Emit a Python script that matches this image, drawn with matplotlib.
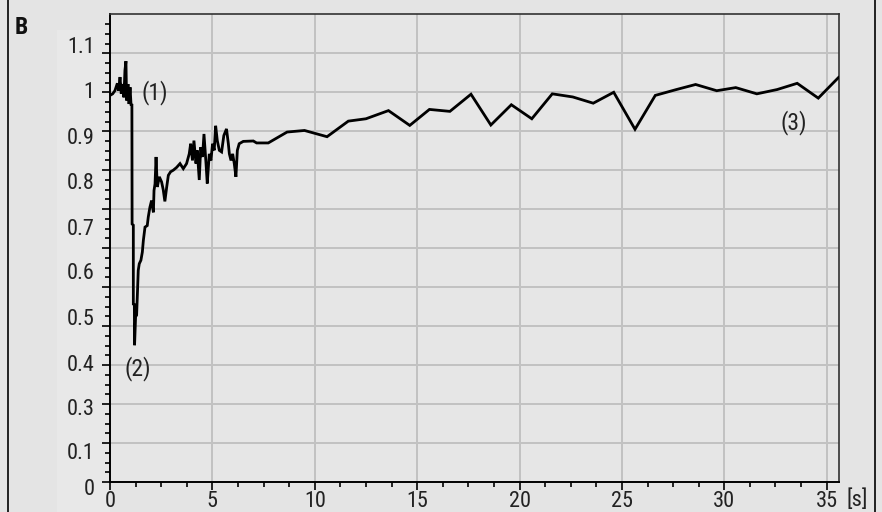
import matplotlib
matplotlib.use("Agg")
import matplotlib.pyplot as plt
import matplotlib.transforms as mtransforms
from matplotlib.lines import Line2D
import numpy as np

# ---- data ----
time_s = [0.0, 0.13, 0.24, 0.36, 0.42, 0.49, 0.55, 0.62, 0.68, 0.73, 0.78, 0.81, 0.88, 0.93, 0.98,
          1.03, 1.07, 1.08, 1.14, 1.14, 1.19, 1.20, 1.25, 1.30, 1.34, 1.38, 1.43, 1.51, 1.58, 1.63,
          1.71, 1.82, 1.87, 1.95, 2.03, 2.12, 2.15, 2.20, 2.25, 2.31, 2.41, 2.52, 2.60, 2.68, 2.77,
          2.85, 2.96, 3.09, 3.25, 3.42, 3.58, 3.74, 3.87, 3.94, 4.03, 4.10, 4.20, 4.26, 4.36, 4.43,
          4.52, 4.59, 4.69, 4.75, 4.85, 4.93, 5.01, 5.09, 5.16, 5.24, 5.34, 5.45, 5.56, 5.69, 5.78,
          5.83, 5.91, 5.99, 6.07, 6.15, 6.22, 6.31, 6.51, 7.0, 7.16, 7.73, 8.65, 9.5, 10.6, 11.64,
          12.5, 13.6, 14.64, 15.6, 16.6, 17.63, 18.6, 19.6, 20.6, 21.6, 22.6, 23.6, 24.6, 25.64,
          26.63, 27.66, 28.6, 29.63, 30.56, 31.59, 32.58, 33.56, 34.59, 35.58]
ratio = [0.992, 0.996, 1.004, 1.023, 1.004, 1.039, 0.996, 1.021, 0.987, 1.056, 1.08, 0.979, 1.021, 0.97, 1.013,
         0.966, 0.97, 0.662, 0.659, 0.454, 0.458, 0.351, 0.424, 0.428, 0.484, 0.543, 0.56, 0.569, 0.59, 0.62,
         0.654, 0.658, 0.68, 0.705, 0.722, 0.692, 0.748, 0.765, 0.834, 0.757, 0.783, 0.77, 0.75, 0.72, 0.757,
         0.787, 0.796, 0.80, 0.807, 0.817, 0.804, 0.817, 0.842, 0.868, 0.825, 0.876, 0.817, 0.851, 0.775, 0.859,
         0.834, 0.893, 0.817, 0.766, 0.842, 0.825, 0.868, 0.851, 0.914, 0.876, 0.851, 0.847, 0.889, 0.906, 0.868,
         0.842, 0.825, 0.842, 0.817, 0.783, 0.851, 0.868, 0.874, 0.875, 0.870, 0.870, 0.898, 0.902, 0.886, 0.926,
         0.932, 0.953, 0.915, 0.956, 0.951, 0.995, 0.916, 0.968, 0.932, 0.996, 0.988, 0.972, 1.0, 0.905,
         0.992, 1.007, 1.02, 1.004, 1.012, 0.996, 1.007, 1.023, 0.985, 1.038]

x_ticks = [0, 5, 10, 15, 20, 25, 30, 35]
x_tick_labels = ["0", "5", "10", "15", "20", "25", "30", "35"]
y_grid = [0.0, 0.1, 0.2, 0.3, 0.4, 0.5, 0.6, 0.7, 0.8, 0.9, 1.0, 1.1]
# y tick labels as typeset in the picture (labels do not sit exactly on the grid lines)
y_label_text = ["1.1", "1", "0.9", "0.8", "0.7", "0.6", "0.5", "0.4", "0.3", "0.1", "0"]
y_label_pos = [1.115, 1.0, 0.882, 0.767, 0.649, 0.536, 0.418, 0.300, 0.185, 0.072, -0.018]

annotations = [("(1)", 1.55, 1.0), ("(2)", 0.73, 0.292), ("(3)", 32.76, 0.923)]

FONT = ["Roboto Condensed", "PT Sans Narrow", "DejaVu Sans"]
plt.rcParams["font.family"] = FONT
TXT = "#222222"
FS = 16

fig = plt.figure(figsize=(8.82, 5.12), dpi=100, facecolor="#e4e4e4")
ax = fig.add_axes([0.1247, 0.0586, 0.9512 - 0.1247, 0.972 - 0.0586])
ax.set_facecolor("#e6e6e6")

# lighter band behind y tick labels
fig.add_artist(plt.Rectangle((57 / 882, 0.0), (110 - 57) / 882, 1 - 30 / 512,
                             transform=fig.transFigure, facecolor="#e8e8e8", edgecolor="none", zorder=0))

ax.plot(time_s, ratio, color="black", lw=2.0, solid_joinstyle="miter", zorder=3)

ax.set_xlim(0, 35.6)
ax.set_ylim(0, 1.2)

ax.set_xticks(x_ticks)
ax.set_xticklabels(x_tick_labels)
ax.set_xticks(np.arange(0, 35.6, 1.25), minor=True)
ax.set_yticks(y_grid)
ax.set_yticklabels([])
ax.set_yticks(np.arange(0, 1.2, 0.025), minor=True)

ax.tick_params(axis="both", which="major", direction="out", length=6, width=1.2, color="black")
ax.tick_params(axis="both", which="minor", direction="out", length=3.8, width=1.2, color="black")
ax.tick_params(axis="x", which="major", labelsize=FS, labelcolor=TXT, pad=0.5)

ax.grid(True, which="major", color="#c2c2c2", lw=1.4, zorder=0)
ax.set_axisbelow(True)

for s in ["left", "bottom"]:
    ax.spines[s].set_color("black")
    ax.spines[s].set_linewidth(1.4)
for s in ["top", "right"]:
    ax.spines[s].set_color("#333333")
    ax.spines[s].set_linewidth(1.2)

trans = mtransforms.blended_transform_factory(ax.transAxes, ax.transData)
for lab, pos in zip(y_label_text, y_label_pos):
    ax.text(-0.021, pos, lab, transform=trans, ha="right", va="center", fontsize=FS,
            color=TXT, clip_on=False)

for lab, xx, yy in annotations:
    ax.text(xx, yy, lab, ha="left", va="center", fontsize=FS + 1, color=TXT)

fig.text(857 / 882, 1 - 500 / 512, "[s]", ha="center", va="center", fontsize=FS, color=TXT)
fig.text(15 / 882, 1 - 27 / 512, "B", ha="left", va="center", fontsize=17, fontweight="bold",
         color="#111111")

# outer frame lines of the panel
fig.add_artist(Line2D([7.5 / 882, 7.5 / 882], [0, 1], transform=fig.transFigure, color="black", lw=1.2))
fig.add_artist(Line2D([874.5 / 882, 874.5 / 882], [0, 1], transform=fig.transFigure, color="black", lw=1.2))

fig.savefig("out.png", dpi=100, facecolor=fig.get_facecolor())
